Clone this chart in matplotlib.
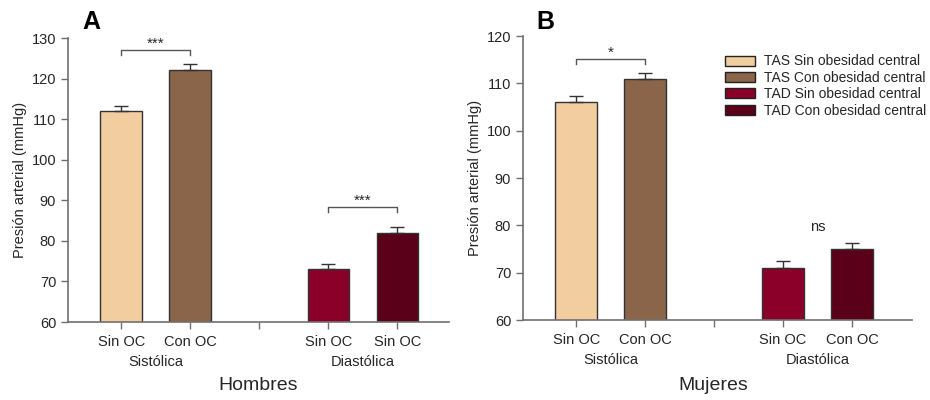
import matplotlib
matplotlib.use("Agg")
import matplotlib.pyplot as plt
from matplotlib.patches import Patch

plt.rcParams['font.family'] = ['Liberation Sans', 'DejaVu Sans']

# Data
tick_labels_A = ["Sin OC", "Con OC", "Sin OC", "Sin OC"]
tick_labels_B = ["Sin OC", "Con OC", "Sin OC", "Con OC"]
groups = ["Sistólica", "Diastólica"]
series = ["TAS Sin obesidad central", "TAS Con obesidad central",
          "TAD Sin obesidad central", "TAD Con obesidad central"]
hombres_vals = [112, 122, 73, 82]
hombres_err = [1.2, 1.7, 1.3, 1.5]
mujeres_vals = [106, 111, 71, 75]
mujeres_err = [1.3, 1.2, 1.5, 1.2]
colors = ["#F2CDA0", "#8A6549", "#8B0028", "#5A0019"]
positions = [0, 1, 3, 4]

fig = plt.figure(figsize=(9.3, 4.0), dpi=100)
axA = fig.add_axes([0.0731, 0.195, 0.4097, 0.71])
axB = fig.add_axes([0.5624, 0.200, 0.4182, 0.71])

spine_col = "#707070"
text_col = "#262626"


def draw(ax, vals, errs, ylim, yticks, ticklabels, xlim):
    ax.bar(positions, vals, width=0.6, color=colors, edgecolor="#333333",
           linewidth=1.0, zorder=2)
    ax.errorbar(positions, vals, yerr=[[0] * 4, errs], fmt="none",
                ecolor="#333333", elinewidth=1.0, capsize=5, capthick=1.0, zorder=3)
    ax.set_ylim(*ylim)
    ax.set_yticks(yticks)
    ax.set_xlim(*xlim)
    ax.set_xticks([0, 1, 2, 3, 4])
    ax.set_xticklabels([ticklabels[0], ticklabels[1], "", ticklabels[2], ticklabels[3]])
    for s in ["top", "right"]:
        ax.spines[s].set_visible(False)
    for s in ["left", "bottom"]:
        ax.spines[s].set_color(spine_col)
        ax.spines[s].set_linewidth(1.2)
    ax.tick_params(axis="both", direction="out", length=5, width=1.0,
                   color=spine_col, labelsize=10.5, labelcolor=text_col)
    ax.tick_params(axis="x", pad=4)
    ax.set_ylabel("Presión arterial (mmHg)", fontsize=10.5, color=text_col, labelpad=3)
    ax.text(0.5, -0.14, groups[0], transform=ax.get_xaxis_transform(),
            ha="center", va="center", fontsize=10.5, color=text_col)
    ax.text(3.5, -0.14, groups[1], transform=ax.get_xaxis_transform(),
            ha="center", va="center", fontsize=10.5, color=text_col)


def bracket(ax, x0, x1, y, leg, label, ty):
    ax.plot([x0, x0, x1, x1], [y - leg, y, y, y - leg], color="#555555", lw=1.0)
    ax.text((x0 + x1) / 2, ty, label, ha="center", va="center", fontsize=11,
            color=text_col)


draw(axA, hombres_vals, hombres_err, (60, 130), range(60, 131, 10),
     tick_labels_A, (-0.77, 4.75))
draw(axB, mujeres_vals, mujeres_err, (60, 120), range(60, 121, 10),
     tick_labels_B, (-0.77, 4.87))

bracket(axA, 0, 1, 127.0, 1.2, "***", 128.5)
bracket(axA, 3, 4, 88.4, 1.2, "***", 89.9)
bracket(axB, 0, 1, 115.1, 1.0, "*", 116.5)
axB.text(3.5, 79.6, "ns", ha="center", va="center", fontsize=10.5, color=text_col)

fig.text((68 + 449) / 2 / 930, 1 - 386 / 400, "Hombres",
         ha="center", va="center", fontsize=14, color=text_col)
fig.text((523 + 912) / 2 / 930 - 0.005, 1 - 386 / 400, "Mujeres",
         ha="center", va="center", fontsize=14, color=text_col)

fig.text(91 / 930, 1 - 22 / 400, "A", ha="center", va="center", fontsize=18,
         fontweight="bold", color="black")
fig.text(545 / 930, 1 - 22 / 400, "B", ha="center", va="center", fontsize=18,
         fontweight="bold", color="black")

handles = [Patch(facecolor=c, edgecolor="#222222", linewidth=1.0) for c in colors]
axB.legend(handles, series, loc="upper left", bbox_to_anchor=(0.519, 0.935),
           frameon=False, fontsize=10, handlelength=2.2, handleheight=0.75,
           handletextpad=0.65, labelspacing=0.17, borderaxespad=0, borderpad=0,
           labelcolor=text_col)

fig.savefig("out.png", dpi=100)
